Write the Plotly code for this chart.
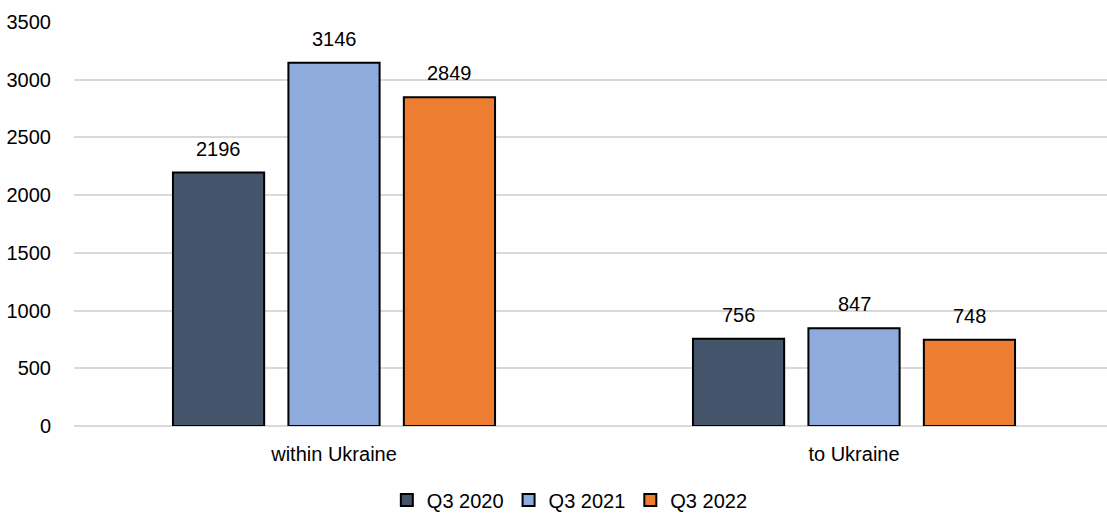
import plotly.graph_objects as go

categories = ["within Ukraine", "to Ukraine"]
series_names = ["Q3 2020", "Q3 2021", "Q3 2022"]
q3_2020 = [2196, 756]
q3_2021 = [3146, 847]
q3_2022 = [2849, 748]
colors = ["#44546A", "#8FAADC", "#ED7D31"]
y_ticks = [0, 500, 1000, 1500, 2000, 2500, 3000, 3500]

FONT = "Liberation Sans, Arial, sans-serif"
FS = 20
BARGAP = 0.334
BARGROUPGAP = 0.21

all_series = [q3_2020, q3_2021, q3_2022]
n = len(all_series)

fig = go.Figure()
for name, vals, c in zip(series_names, all_series, colors):
    fig.add_trace(go.Bar(
        x=categories, y=vals, name=name,
        marker=dict(color=c, line=dict(color="#000000", width=2)),
        hoverinfo="x+y+name",
    ))

# value labels placed above each bar, using the axis scales
slot = (1 - BARGAP) / n
annotations = []
for i, vals in enumerate(all_series):
    for j, v in enumerate(vals):
        annotations.append(dict(
            x=j + (i - (n - 1) / 2) * slot, y=v, xref="x", yref="y",
            text=str(v), showarrow=False, yanchor="bottom", yshift=11,
            font=dict(family=FONT, size=FS, color="#000000"),
        ))

fig.update_layout(
    width=1107, height=516,
    margin=dict(l=74, r=0, t=22, b=90, autoexpand=False),
    paper_bgcolor="white", plot_bgcolor="white",
    font=dict(family=FONT, size=FS, color="#000000"),
    barmode="group", bargap=BARGAP, bargroupgap=BARGROUPGAP,
    showlegend=True,
    legend=dict(orientation="h", x=0.48, xanchor="center", y=-0.183, yanchor="middle",
                font=dict(family=FONT, size=FS), itemwidth=30, traceorder="normal",
                tracegroupgap=0),
    annotations=annotations,
)
fig.update_xaxes(range=[-0.5, 1.4865], showgrid=False, showline=False, ticks="",
                 ticklabelstandoff=14, tickfont=dict(family=FONT, size=FS))
fig.update_yaxes(range=[0, 3500], tickvals=y_ticks, showgrid=True, gridcolor="#D9D9D9",
                 gridwidth=2, zeroline=True, zerolinecolor="#D9D9D9", zerolinewidth=2,
                 showline=False, ticks="", ticklabelstandoff=22,
                 tickfont=dict(family=FONT, size=FS))

fig.write_html("out.html")
